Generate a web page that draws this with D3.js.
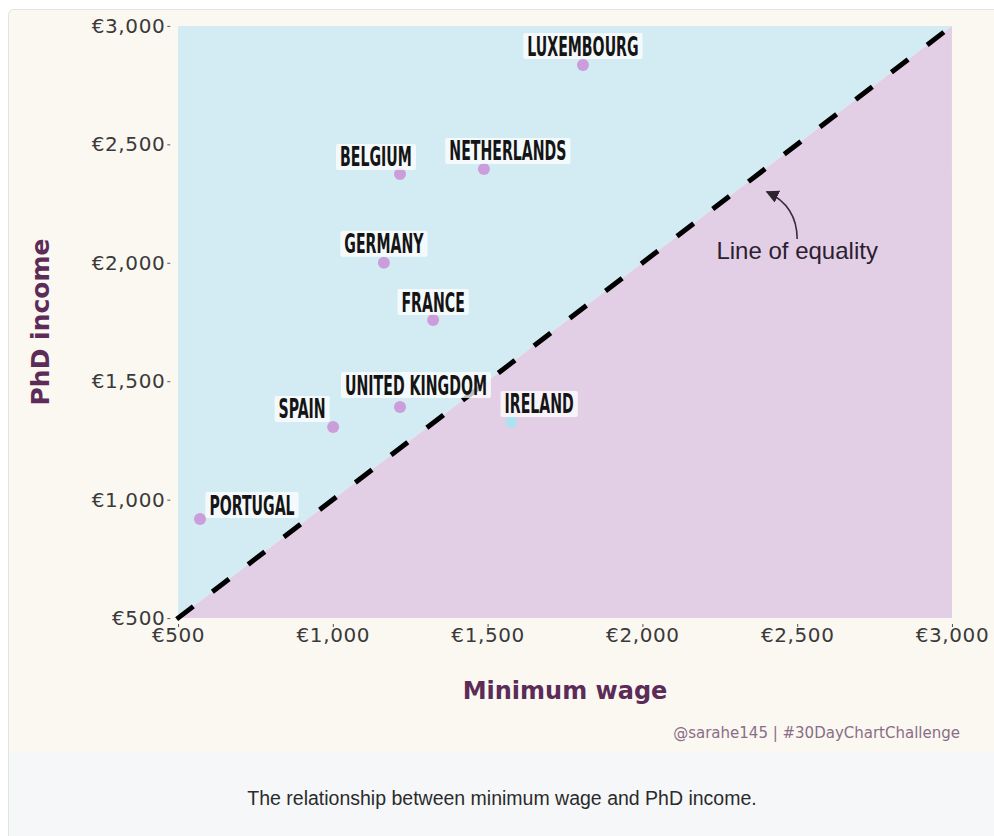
<!DOCTYPE html>
<html>
<head>
<meta charset="utf-8">
<script src="https://cdn.jsdelivr.net/npm/d3@7"></script>
<style>
  body { margin: 0; background: #fff; }
  svg { display: block; }
</style>
</head>
<body>
<svg width="994" height="836"></svg>
<script>
// values (euros per month)
var countries = ["Luxembourg", "Belgium", "Netherlands", "Germany", "France", "United Kingdom", "Spain", "Portugal", "Ireland"];
var minWage   = [1808, 1217, 1488, 1165, 1324, 1217, 1001, 571, 1576];
var phdIncome = [2835, 2375, 2396, 2000, 1758, 1391, 1307, 918, 1328];
var tickValues = [500, 1000, 1500, 2000, 2500, 3000];

// repel-style label nudges, in pixels
var labelNudge = {
  "Luxembourg": [0, -19], "Belgium": [-24, -17], "Netherlands": [24, -18],
  "Germany": [0, -19], "France": [0, -18], "United Kingdom": [16, -22],
  "Spain": [-31, -18], "Portugal": [52, -14], "Ireland": [28, -18]
};

var svg = d3.select("svg"),
    W = +svg.attr("width"), H = +svg.attr("height");

var cream = "#fbf8f2", plum = "#5b2c57";

// card background + caption strip
svg.append("rect").attr("x", 8.5).attr("y", 9.5).attr("width", W).attr("height", H)
    .attr("rx", 5).attr("fill", cream).attr("stroke", "#e3e3e3");
svg.append("rect").attr("x", 9).attr("y", 752).attr("width", W).attr("height", H - 752)
    .attr("fill", "#f6f7f9");

var x = d3.scaleLinear().domain([475, 3025]).range([170.3, 959.7]),
    y = d3.scaleLinear().domain([475, 3025]).range([624, 20]);

var g = svg.append("g");

// regions above / below the line of equality
var lo = tickValues[0], hi = tickValues[tickValues.length - 1];
var poly = d3.line().x(function(d) { return x(d[0]); }).y(function(d) { return y(d[1]); });
g.append("path").attr("d", poly([[lo, lo], [lo, hi], [hi, hi]]) + "Z").attr("fill", "#d3ecf3");
g.append("path").attr("d", poly([[lo, lo], [hi, lo], [hi, hi]]) + "Z").attr("fill", "#e2cfe6");

// axes
var axisFont = "'DejaVu Sans', sans-serif";
var fmt = function(d) { return "€" + d3.format(",")(d); };

var yAxis = g.append("g").attr("transform", "translate(" + x.range()[0] + ",0)")
    .call(d3.axisLeft(y).tickValues(tickValues).tickSize(3).tickPadding(2).tickFormat(fmt));
var xAxis = g.append("g").attr("transform", "translate(0," + y.range()[0] + ")")
    .call(d3.axisBottom(x).tickValues(tickValues).tickSize(3).tickPadding(1).tickFormat(fmt));
[xAxis, yAxis].forEach(function(a) {
  a.select(".domain").remove();
  a.selectAll(".tick line").attr("stroke", "#555");
  a.selectAll(".tick text").attr("fill", "#3a3a3a")
      .style("font-family", axisFont).style("font-size", "20px").style("letter-spacing", "0.6px");
});

// line of equality
g.append("line")
    .attr("x1", x(x.domain()[0])).attr("y1", y(y.domain()[0]))
    .attr("x2", x(x.domain()[1])).attr("y2", y(y.domain()[1]))
    .attr("stroke", "#000").attr("stroke-width", 5)
    .attr("stroke-dasharray", "21,24").attr("stroke-dashoffset", -8);

// annotation
svg.append("defs").append("marker")
    .attr("id", "head").attr("viewBox", "0 0 10 10").attr("refX", 9).attr("refY", 5)
    .attr("markerWidth", 13).attr("markerHeight", 13).attr("markerUnits", "userSpaceOnUse")
    .attr("orient", "auto")
  .append("path").attr("d", "M0,0L10,5L0,10Z").attr("fill", "#2e2430");
var p = d3.path();
p.moveTo(x(2500), y(2100));
p.quadraticCurveTo(x(2500), y(2240), x(2402), y(2300));
g.append("path").attr("d", p.toString()).attr("fill", "none")
    .attr("stroke", "#3a2c3a").attr("stroke-width", 1.6).attr("marker-end", "url(#head)");
g.append("text").attr("x", x(2500)).attr("y", y(2050) + 8)
    .attr("text-anchor", "middle").attr("fill", "#2b2030")
    .style("font-family", "'Liberation Sans', Arial, sans-serif").style("font-size", "24px")
    .text("Line of equality");

// points
var data = countries.map(function(c, i) {
  return { name: c, wage: minWage[i], phd: phdIncome[i] };
});
g.selectAll(".pt").data(data).enter().append("circle")
    .attr("class", "pt")
    .attr("cx", function(d) { return x(d.wage); })
    .attr("cy", function(d) { return y(d.phd); })
    .attr("r", 6)
    .attr("fill", function(d) { return d.phd > d.wage ? "#cc9ddb" : "#ade3ee"; });

// labels: condensed bold caps, squeezed to match a Bebas-like face
var labFont = "'Liberation Sans Narrow', 'DejaVu Sans Condensed', sans-serif";
var probe = svg.append("text").style("font-family", labFont).style("font-weight", "bold")
    .style("font-size", "26px").text("UNITED KINGDOM");
var squeeze = 142 / probe.node().getComputedTextLength();
probe.remove();

var lab = g.selectAll(".lab").data(data).enter().append("g")
    .attr("class", "lab")
    .attr("transform", function(d) {
      var n = labelNudge[d.name];
      return "translate(" + (x(d.wage) + n[0]) + "," + (y(d.phd) + n[1]) + ")";
    });
lab.append("rect").attr("fill", "#fff").attr("fill-opacity", 0.75).attr("rx", 2);
lab.append("text")
    .attr("text-anchor", "middle").attr("y", 9.5)
    .attr("transform", "scale(" + squeeze + ",1)")
    .attr("fill", "#151515")
    .style("font-family", labFont).style("font-weight", "bold").style("font-size", "26px")
    .text(function(d) { return d.name.toUpperCase(); });
lab.each(function() {
  var t = d3.select(this).select("text"),
      w = t.node().getComputedTextLength() * squeeze;
  d3.select(this).select("rect")
      .attr("x", -w / 2 - 4).attr("y", -13).attr("width", w + 8).attr("height", 26);
});

// axis titles
var titleFont = "'DejaVu Sans', sans-serif";
svg.append("text").attr("x", (x.range()[0] + x.range()[1]) / 2).attr("y", 699)
    .attr("text-anchor", "middle").attr("fill", plum)
    .style("font-family", titleFont).style("font-weight", "bold").style("font-size", "24px")
    .text("Minimum wage");
svg.append("text")
    .attr("transform", "translate(49," + (y.range()[0] + y.range()[1]) / 2 + ") rotate(-90)")
    .attr("text-anchor", "middle").attr("fill", plum)
    .style("font-family", titleFont).style("font-weight", "bold").style("font-size", "25px")
    .text("PhD income");

// credit
svg.append("text").attr("x", 960).attr("y", 738).attr("text-anchor", "end")
    .attr("fill", "#8a6d87")
    .style("font-family", "'DejaVu Sans', sans-serif").style("font-size", "15px")
    .text("@sarahe145 | #30DayChartChallenge");

// caption below the card
svg.append("text").attr("x", 502).attr("y", 805).attr("text-anchor", "middle")
    .attr("fill", "#2b2b2b")
    .style("font-family", "'Liberation Sans', Arial, sans-serif").style("font-size", "19.5px")
    .text("The relationship between minimum wage and PhD income.");
</script>
</body>
</html>
